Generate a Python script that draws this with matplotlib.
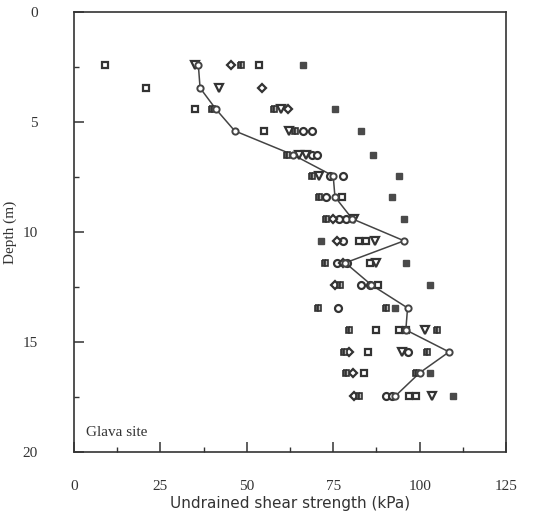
import matplotlib
matplotlib.use("Agg")
import matplotlib.pyplot as plt
from matplotlib.ticker import MultipleLocator

# ---- data ----
mean_depth = [2.4, 3.45, 4.4, 5.4, 6.5, 7.45, 8.4, 9.4, 10.4, 11.4, 12.4, 13.45, 14.45, 15.45, 16.4, 17.45]
mean_su = [36, 36.5, 41, 46.5, 63.5, 75, 75.5, 80.5, 95.5, 78.5, 86, 96.5, 96, 108.5, 100, 93]

sq_su = [9, 53.6, 21, 35, 55, 77.4, 82.6, 84.6, 85.5, 88, 87.5, 94, 96, 85, 84, 97, 99]
sq_depth = [2.4, 2.4, 3.45, 4.4, 5.4, 8.4, 10.4, 10.4, 11.4, 12.4, 14.45, 14.45, 14.45, 15.45, 16.4, 17.45, 17.45]

ci_su = [66.4, 69, 69, 70.4, 74, 77.7, 73, 78.8, 76.8, 77.7, 76, 79, 83, 85.5, 76.5, 96.5, 90.4, 92]
ci_depth = [5.4, 5.4, 6.5, 6.5, 7.45, 7.45, 8.4, 9.4, 9.4, 10.4, 11.4, 11.4, 12.4, 12.4, 13.45, 15.45, 17.45, 17.45]

tr_su = [35, 42, 60, 62.3, 65, 67, 71, 81, 87, 87.5, 101.4, 95, 103.5]
tr_depth = [2.4, 3.45, 4.4, 5.4, 6.5, 6.5, 7.45, 9.4, 10.4, 11.4, 14.45, 15.45, 17.45]

di_su = [45.5, 54.5, 62, 74.8, 76, 77.7, 75.4, 79.7, 80.6, 81]
di_depth = [2.4, 3.45, 4.4, 9.4, 10.4, 11.4, 12.4, 15.45, 16.4, 17.45]

hs_su = [48.4, 40, 58, 64, 61.7, 69, 71, 72.8, 72.5, 77, 70.7, 90.4, 79.7, 105, 78, 102, 78.8, 99, 82.6]
hs_depth = [2.4, 4.4, 4.4, 5.4, 6.5, 7.45, 8.4, 9.4, 11.4, 12.4, 13.45, 13.45, 14.45, 14.45, 15.45, 15.45, 16.4, 16.4, 17.45]

fs_su = [66.4, 75.6, 83, 86.4, 94, 92, 95.6, 71.6, 96, 103, 92.8, 103, 109.6]
fs_depth = [2.4, 4.4, 5.4, 6.5, 7.45, 8.4, 9.4, 10.4, 11.4, 12.4, 13.45, 16.4, 17.45]

x_ticks = [0, 25, 50, 75, 100, 125]
y_ticks = [0, 5, 10, 15, 20]

# ---- figure ----
plt.rcParams['font.family'] = ['Liberation Serif', 'DejaVu Serif']
fig = plt.figure(figsize=(5.39, 5.14), dpi=100)
ax = fig.add_axes([0.137, 0.1206, 0.802, 0.856])

ink = '#333333'
ax.plot(mean_su, mean_depth, '-', color='#444444', lw=1.1, zorder=2)
ax.plot(sq_su, sq_depth, 's', ms=5, mfc='white', mec=ink, mew=1.6, ls='none', zorder=3)
ax.plot(ci_su, ci_depth, 'o', ms=5, mfc='white', mec=ink, mew=1.6, ls='none', zorder=3)
ax.plot(tr_su, tr_depth, 'v', ms=5.5, mfc='white', mec=ink, mew=1.6, ls='none', zorder=3)
ax.plot(di_su, di_depth, 'D', ms=4.2, mfc='white', mec=ink, mew=1.6, ls='none', zorder=3)
ax.plot(hs_su, hs_depth, 's', ms=5, mfc='#555555', mec=ink, mew=1.2,
        fillstyle='left', markerfacecoloralt='#bbbbbb', ls='none', zorder=3)
ax.plot(fs_su, fs_depth, 's', ms=5, mfc='#4a4a4a', mec='#4a4a4a', ls='none', zorder=3)
ax.plot(mean_su, mean_depth, 'o', ms=4.5, mfc='white', mec='#444444', mew=1.4, ls='none', zorder=4)

ax.set_xlim(0, 125)
ax.set_ylim(20, 0)
ax.set_xticks(x_ticks)
ax.set_yticks(y_ticks)
ax.xaxis.set_minor_locator(MultipleLocator(12.5))
ax.yaxis.set_minor_locator(MultipleLocator(2.5))
ax.tick_params(axis='both', which='major', direction='in', length=7, width=1.1,
               labelsize=11, color=ink, labelcolor='#333333')
ax.tick_params(axis='both', which='minor', direction='in', length=3.5, width=1.0, color=ink)
ax.tick_params(axis='x', which='major', pad=20)
ax.tick_params(axis='y', which='major', pad=26)
for s in ax.spines.values():
    s.set_linewidth(1.2)
    s.set_color(ink)

ax.set_xlabel('Undrained shear strength (kPa)', fontsize=11, family=['DejaVu Sans'],
              color='#333333', labelpad=2)
ax.set_ylabel('Depth (m)', fontsize=11, color='#333333', labelpad=4)
ax.text(3.5, 19.1, 'Glava site', fontsize=11, color='#333333', ha='left', va='center')

fig.savefig('out.png', dpi=100)
